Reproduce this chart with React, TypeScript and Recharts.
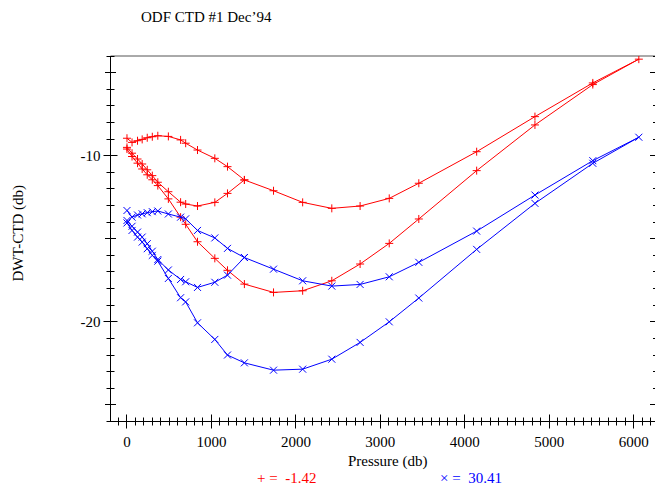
import React from 'react';
import { ScatterChart, Scatter, XAxis, YAxis, ReferenceLine, Legend } from 'recharts';

const FONT = '"Liberation Serif", "Times New Roman", serif';

// sample pressures (db)
const shallowP = [0, 60, 125, 180, 240, 300, 365, 490, 635, 695, 835, 1040, 1190, 1390];
const deepP = [1735, 2080, 2425, 2760, 3105, 3455, 4140, 4830, 5515, 6060];

// red series (-1.42)
const redArc = [-8.95, -9.2, -9.1, -9.02, -8.92, -8.86, -8.8, -8.84, -9.05, -9.25, -9.66, -10.16, -10.66, -11.46];
const redDip = [-9.5, -9.85, -10.2, -10.5, -10.85, -11.2, -11.6, -12.17, -12.8, -12.91, -13.03, -12.81, -12.27, -11.46];
const redSteep = [-9.6, -10.05, -10.45, -10.8, -11.15, -11.45, -11.8, -12.6, -13.7, -14.13, -15.18, -16.18, -16.9, -17.73];
const redUpper = [-12.11, -12.81, -13.17, -13.03, -12.57, -11.66, -9.76, -7.65, -5.62, -4.19];
const redLower = [-18.23, -18.13, -17.53, -16.52, -15.28, -13.81, -10.9, -8.15, -5.72, -4.19];

// blue series (30.41)
const blueArc = [-13.3, -13.7, -13.57, -13.5, -13.43, -13.37, -13.33, -13.51, -13.7, -13.8, -14.5, -14.95, -15.58, -16.13];
const blueDip = [-13.9, -14.25, -14.6, -14.9, -15.3, -15.75, -16.25, -16.88, -17.45, -17.59, -17.93, -17.62, -17.19, -16.13];
const blueSteep = [-14.05, -14.5, -14.9, -15.2, -15.6, -16.0, -16.35, -17.39, -18.55, -18.8, -20.06, -21.06, -22.0, -22.47];
const blueUpper = [-16.83, -17.53, -17.85, -17.75, -17.29, -16.42, -14.54, -12.37, -10.3, -8.89];
const blueLower = [-22.91, -22.85, -22.25, -21.24, -20.0, -18.57, -15.64, -12.87, -10.46, -8.89];

const xLabels = [0, 1000, 2000, 3000, 4000, 5000, 6000];
const yLabels = [-10, -20];
const xMinor = Array.from({ length: 64 }, (_, i) => -100 + i * 100);
const yMinor = Array.from({ length: 23 }, (_, i) => -26 + i);

const pts = (ps: number[], vs: number[]) => ps.map((p, i) => ({ p, v: vs[i] }));

// one cast: arc down, deep out, deep back, steep up, then the dip leg
const buildPath = (arc: number[], dip: number[], steep: number[], upper: number[], lower: number[]) => [
  ...pts(shallowP, arc),
  ...pts(deepP, upper),
  ...pts(deepP, lower).reverse().slice(1),
  ...pts(shallowP, steep).reverse(),
  ...pts(shallowP, dip),
];

const redPath = buildPath(redArc, redDip, redSteep, redUpper, redLower);
const bluePath = buildPath(blueArc, blueDip, blueSteep, blueUpper, blueLower);

const crisp = (n: number) => Math.floor(n) + 0.5;

const Plus = (props: any) => {
  const { cx, cy } = props;
  return (
    <path d={`M${cx - 4},${cy}H${cx + 4}M${cx},${cy - 4}V${cy + 4}`} stroke="#ff0000" strokeWidth={1} fill="none" />
  );
};

const Cross = (props: any) => {
  const { cx, cy } = props;
  const r = 3.5;
  return (
    <path
      d={`M${cx - r},${cy - r}L${cx + r},${cy + r}M${cx - r},${cy + r}L${cx + r},${cy - r}`}
      stroke="#0000ff"
      strokeWidth={1}
      fill="none"
    />
  );
};

const XTick = (props: any) => {
  const { x, y, payload } = props;
  const v = payload.value;
  const major = xLabels.includes(v);
  const h = major ? 7 : 4;
  const cx = crisp(x);
  return (
    <g>
      <line x1={cx} x2={cx} y1={y - h} y2={y + h} stroke="#000" />
      {major && (
        <text x={x} y={y + 25} textAnchor="middle" fontSize={15} fontFamily={FONT} fill="#000">
          {v}
        </text>
      )}
    </g>
  );
};

const YTick = (props: any) => {
  const { x, y, payload } = props;
  const v = payload.value;
  const major = yLabels.includes(v);
  const h = major ? 7 : v % 5 === 0 ? 5.5 : 4;
  const cy = crisp(y);
  return (
    <g>
      <line x1={x - h} x2={x + h} y1={cy} y2={cy} stroke="#000" />
      {major && (
        <text x={x - 10} y={y + 5} textAnchor="end" fontSize={15} fontFamily={FONT} fill="#000">
          {v}
        </text>
      )}
    </g>
  );
};

const RTick = (props: any) => {
  const { x, y, payload } = props;
  const v = payload.value;
  const h = v % 5 === 0 ? 7 : 4;
  const cy = crisp(y);
  return <line x1={x - h} x2={x} y1={cy} y2={cy} stroke="#000" />;
};

const YLabel = (props: any) => {
  const vb = props.viewBox;
  const x = vb.x + 22;
  const y = vb.y + vb.height / 2 - 5.5;
  return (
    <text x={x} y={y} transform={`rotate(-90 ${x} ${y})`} textAnchor="middle" fontSize={15} fontFamily={FONT} fill="#000">
      DWT-CTD (db)
    </text>
  );
};

const XLabel = (props: any) => {
  const vb = props.viewBox;
  return (
    <text x={vb.x + vb.width / 2 + 4} y={vb.y + 44.5} textAnchor="middle" fontSize={15} fontFamily={FONT} fill="#000">
      Pressure (db)
    </text>
  );
};

const symbols = ['+', '\u00d7'];
const legendLeft = [257, 440];

const LegendContent = (props: any) => {
  const payload = props.payload || [];
  return (
    <div style={{ position: 'relative', height: 15, fontFamily: FONT, fontSize: 15, lineHeight: '15px', whiteSpace: 'pre' }}>
      {payload.map((entry: any, i: number) => (
        <span key={i} style={{ position: 'absolute', left: legendLeft[i], top: 0, color: entry.color }}>
          {`${symbols[i]} =  ${entry.value}`}
        </span>
      ))}
    </div>
  );
};

export default function App() {
  return (
    <div style={{ position: 'absolute', left: 0, top: 0, width: 655, height: 487, overflow: 'hidden', background: '#fff' }}>
      <div style={{ position: 'absolute', left: 141, top: 9, fontFamily: FONT, fontSize: 15, lineHeight: '17px', whiteSpace: 'pre' }}>
        ODF CTD #1 Dec’94
      </div>
      <ScatterChart width={660} height={487} margin={{ top: 56, right: 0, bottom: 0, left: 0.5 }}>
        <XAxis
          type="number"
          dataKey="p"
          domain={[-195, 6275]}
          allowDataOverflow
          ticks={xMinor}
          interval={0}
          tickSize={0}
          tickMargin={0}
          tick={XTick}
          axisLine={{ stroke: '#000' }}
          height={65.5}
          label={XLabel}
        />
        <YAxis
          type="number"
          dataKey="v"
          domain={[-26, -4]}
          allowDataOverflow
          ticks={yMinor}
          interval={0}
          tickSize={0}
          tickMargin={0}
          tick={YTick}
          axisLine={{ stroke: '#000' }}
          width={110}
          label={YLabel}
        />
        <YAxis
          yAxisId="r"
          orientation="right"
          type="number"
          dataKey="v"
          domain={[-26, -4]}
          allowDataOverflow
          ticks={yMinor}
          interval={0}
          tickSize={0}
          tickMargin={0}
          tick={RTick}
          axisLine={false}
          width={3}
        />
        <ReferenceLine y={-4} stroke="#555" strokeWidth={1} />
        <Legend
          layout="vertical"
          align="center"
          verticalAlign="middle"
          wrapperStyle={{ top: 471, left: 0, width: 655, height: 15 }}
          content={LegendContent}
        />
        <Scatter
          name="-1.42"
          data={redPath}
          fill="#ff0000"
          line={{ stroke: '#ff0000', strokeWidth: 1 }}
          lineJointType="linear"
          shape={Plus}
          isAnimationActive={false}
        />
        <Scatter
          name="30.41"
          yAxisId="r"
          data={bluePath}
          fill="#0000ff"
          line={{ stroke: '#0000ff', strokeWidth: 1 }}
          lineJointType="linear"
          shape={Cross}
          isAnimationActive={false}
        />
      </ScatterChart>
    </div>
  );
}
